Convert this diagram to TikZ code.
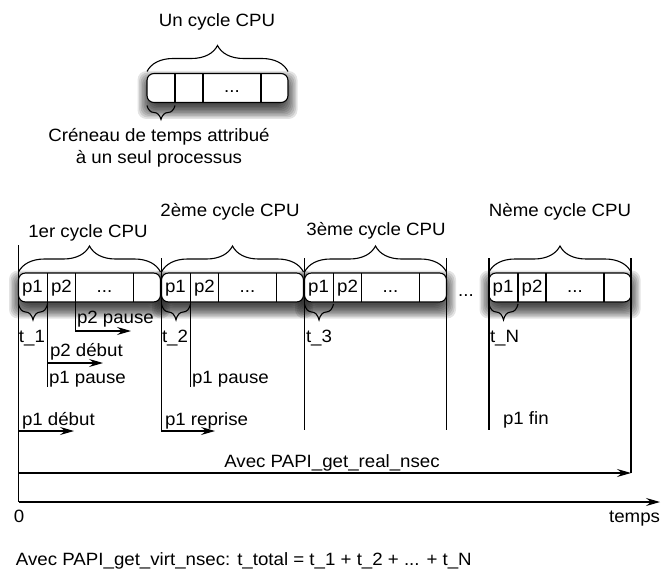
\documentclass[tikz,border=0pt]{standalone}
\usepackage{fontspec}
\setmainfont{Liberation Sans}[FakeStretch=1.05]
\usetikzlibrary{arrows.meta,decorations.pathreplacing,calc,backgrounds}

\begin{document}
\begin{tikzpicture}[x=1pt,y=-1pt,
  every node/.style={font=\fontsize{17.8}{21}\selectfont, inner sep=0pt, outer sep=0pt},
  line/.style={line width=1.1pt},
  arr/.style={line width=1.1pt, -{Stealth[length=14pt,width=8pt,inset=5pt]}},
  bigbrace/.style={line width=1.1pt, decorate, decoration={brace, amplitude=26pt}},
  smallbrace/.style={line width=1.1pt, decorate, decoration={brace, amplitude=16pt}},
  cyclebox/.style={draw, line width=1.1pt, fill=white, rounded corners=7pt,
    minimum width=142pt, minimum height=29pt},
  shadowlayer/.style={fill=black, fill opacity=0.11, rounded corners=9pt},
  lbl/.style={anchor=base west},
  ctr/.style={anchor=base},
]
\useasboundingbox (0,0) rectangle (661,572);

% ---------- a single CPU cycle ----------
\node[cyclebox, minimum width=141pt] (u) at (217.5,88) {};
\foreach \o in {28,56,114}
  \draw[line] ($(u.north west)+(\o,0)$) -- ($(u.south west)+(\o,0)$);
\node[ctr] (udots) at ($(u.west)+(85,5)$) {...};
\draw[bigbrace] ($(u.north west)+(0,-2)$) -- ($(u.north east)+(0,-2)$);
\node[ctr] (utitle) at (217,27) {Un cycle CPU};
\draw[smallbrace, decoration={amplitude=14pt}] ($(u.south west)+(28,3)$) -- ($(u.south west)+(0,3)$);
\node[ctr] (ucap1) at (159,142) {Créneau de temps attribué};
\node[ctr] (ucap2) at (159,164) {à un seul processus};

% ---------- the successive CPU cycles ----------
\foreach \n/\cx in {c1/89.5, c2/232.5, c3/375.5, cN/560} {
  \node[cyclebox] (\n) at (\cx,287.5) {};
  \foreach \o in {29,57,115}
    \draw[line] ($(\n.north west)+(\o,0)$) -- ($(\n.south west)+(\o,0)$);
  \node[ctr] (\n-p1) at ($(\n.west)+(14,5)$) {p1};
  \node[ctr] (\n-p2) at ($(\n.west)+(43,5)$) {p2};
  \node[ctr] (\n-dots) at ($(\n.west)+(86,5)$) {...};
  \draw[bigbrace] ($(\n.north west)+(0,-1)$) -- ($(\n.north east)+(0,-1)$);
  \draw[smallbrace] ($(\n.south west)+(29,2)$) -- ($(\n.south west)+(0,2)$);
}
% white page and soft drop shadows (stacked translucent layers) under the boxes
\begin{scope}[on background layer]
  \fill[white] (0,0) rectangle (661,572);
  \foreach \n in {u,c1,c2,c3,cN}
    \foreach \e in {-4,-2.5,...,10}
      \path[shadowlayer] ($(\n.north west)+(-\e,7-\e)$) rectangle ($(\n.south east)+(\e,7+\e)$);
\end{scope}

\node[ctr] (gap) at (466,296) {...};

\node[ctr] (t1) at (88,237) {1er cycle CPU};
\node[ctr] (t2) at (230,217) {2ème cycle CPU};
\node[ctr] (t3) at (376,236) {3ème cycle CPU};
\node[ctr] (tN) at (560,217) {Nème cycle CPU};

\node[lbl] (s1) at (19,342) {t\_1};
\node[lbl] (s2) at (162,342) {t\_2};
\node[lbl] (s3) at (306,342) {t\_3};
\node[lbl] (sN) at (490,342) {t\_N};

% ---------- time axis ----------
\coordinate (o) at (18.5,502);
\coordinate (tend) at (660,502);
\draw[arr] (o) -- (tend);
\draw[line] ($(c1.north west)+(0,-28)$) -- (o);
\node[ctr] (zero) at (19,522) {0};
\node[anchor=base east] (temps) at (660,522) {temps};

% ---------- events ----------
\coordinate (deb) at (18.5,431);
\coordinate (debe) at (74,431);
\draw[arr] (deb) -- (debe);
\node[lbl] (ldeb) at (22,425) {p1 début};

\coordinate (p2d) at ($(c1.south west)+(29,0)$);
\coordinate (p2de) at (103,363);
\coordinate (p1pa) at (47.5,387);
\draw[line] (p2d) -- (p1pa);
\draw[arr] (p2d |- p2de) -- (p2de);
\node[lbl] (lp2d) at (50,356) {p2 début};
\node[lbl] (lp1pa) at (49,383) {p1 pause};

\coordinate (p2p) at ($(c1.south west)+(57,0)$);
\coordinate (p2pe) at (131,331);
\draw[arr] (p2p) |- (p2pe);
\node[lbl] (lp2p) at (77,323) {p2 pause};

\coordinate (rep) at (215,431);
\draw[arr] ($(c2.north west)+(0,-15)$) |- (rep);
\node[lbl] (lrep) at (165,425) {p1 reprise};

\coordinate (p1pb) at (190.5,387);
\draw[line] ($(c2.south west)+(29,0)$) -- (p1pb);
\node[lbl] (lp1pb) at (192,383) {p1 pause};

\coordinate (e3a) at (304.5,430);
\coordinate (e3b) at (446.5,430);
\coordinate (eNa) at (489,430);
\draw[line] ($(c3.north west)+(0,-15)$) -- (e3a);
\draw[line] ($(c3.north east)+(0,-15)$) -- (e3b);
\draw[line] ($(cN.north west)+(0,-15)$) -- (eNa);
\node[lbl] (lfin) at (503,424) {p1 fin};

\coordinate (real0) at (18.5,473);
\coordinate (real1) at (631,473);
\draw[line] ($(cN.north east)+(0,-15)$) -- (real1);
\draw[arr] (real0) -- (real1);
\node[ctr] (lreal) at (332,467) {Avec PAPI\_get\_real\_nsec};

\node[lbl] (virt) at (16,565) {Avec PAPI\_get\_virt\_nsec: t\_total = t\_1 + t\_2 + ... + t\_N};
\end{tikzpicture}
\end{document}
